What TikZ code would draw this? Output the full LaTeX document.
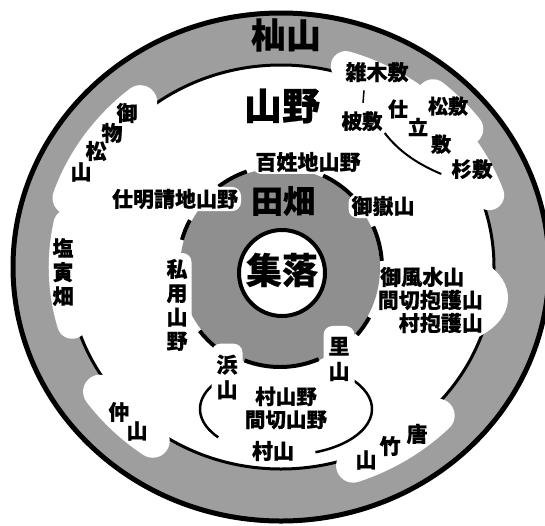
\documentclass[tikz,border=0pt]{standalone}
\usepackage{fontspec}
\newfontfamily\cjk[BoldFeatures={FakeBold=0.5}]{Noto Sans CJK JP}
\usetikzlibrary{calc}
\definecolor{ringgray}{gray}{0.62}
\definecolor{fieldgray}{gray}{0.56}
\begin{document}
\begin{tikzpicture}[x=1pt,y=-1pt,
  every node/.style={inner sep=0pt},
  jp/.style={font=\cjk\bfseries\fontsize{#1}{#1}\selectfont},
  vt/.style={align=center, font=\cjk\bfseries\fontsize{21}{24}\selectfont},
  bub/.style={white, line cap=round},
  bracket/.style={line width=4pt},
  wbox/.style={fill=white, rounded corners=9pt}]
\useasboundingbox (0,0) rectangle (545,525);
\clip (0,0) rectangle (545,525);
\fill[white] (0,0) rectangle (545,525);
\def\RX{213}\def\RY{202}
\coordinate (C) at (281,267);
\coordinate (G) at (280,268);
\coordinate (E) at (286,409);
% outer ring
\fill[ringgray] (C) ellipse[x radius=270, y radius=256];
\draw[line width=5pt] (C) ellipse[x radius=268, y radius=254];
\fill[white] (C) ellipse[x radius=\RX, y radius=\RY];
\draw[line width=3pt] (C) ellipse[x radius=\RX, y radius=\RY];
% bubbles on the ring
\draw[bub, line width=34pt] ($(C)+(199:{\RX*1.05} and {\RY*1.05})$) arc[start angle=199, end angle=231, x radius={\RX*1.05}, y radius={\RY*1.05}];
\draw[bub, line width=30pt] ($(C)+(164:{\RX*1.02} and {\RY*1.02})$) arc[start angle=164, end angle=192, x radius={\RX*1.02}, y radius={\RY*1.02}];
\draw[bub, line width=34pt] ($(C)+(125:{\RX*1.05} and {\RY*1.05})$) arc[start angle=125, end angle=144, x radius={\RX*1.05}, y radius={\RY*1.05}];
\draw[bub, line width=34pt] ($(C)+(45:{\RX*1.04} and {\RY*1.04})$) arc[start angle=45, end angle=71, x radius={\RX*1.04}, y radius={\RY*1.04}];
\draw[bub, line width=30pt] ($(C)+(-73:{\RX*1.04} and {\RY*1.04})$) arc[start angle=-73, end angle=-20, x radius={\RX*1.04}, y radius={\RY*1.04}];
\draw[bub, line width=32pt] ($(C)+(-50:{\RX*1.11} and {\RY*1.11})$) arc[start angle=-50, end angle=-38, x radius={\RX*1.11}, y radius={\RY*1.11}];
\fill[white] (440,298) ellipse[x radius=68, y radius=47];
% ellipse around village fields
\draw[line width=2.5pt] ($(E)+(-60:86 and 46)$) arc[start angle=-60, end angle=70, x radius=86, y radius=46];
\draw[line width=2.5pt] ($(E)+(142:86 and 46)$) arc[start angle=142, end angle=235, x radius=86, y radius=46];
% fields (gray)
\fill[fieldgray] (G) circle[radius=100];
\draw[bracket] ($(G)+(233:102)$) arc[start angle=233, end angle=251, radius=102];
\draw[bracket] ($(G)+(295:102)$) arc[start angle=295, end angle=315, radius=102];
\draw[bracket] ($(G)+(336:102)$) arc[start angle=336, end angle=356, radius=102];
\draw[bracket] ($(G)+(29:102)$) arc[start angle=29, end angle=41, radius=102];
\draw[bracket] ($(G)+(67:99)$) arc[start angle=67, end angle=111, radius=99];
\draw[bracket] ($(G)+(129:102)$) arc[start angle=129, end angle=142, radius=102];
\draw[bracket] ($(G)+(196:102)$) arc[start angle=196, end angle=208, radius=102];
% settlement
\draw[line width=4pt, fill=white] (282,273) circle[radius=43];
% labels
\node[jp=35] (soma) at (286,35) {杣山};
\node[jp=38] (sanya) at (282,106) {山野};
\node[jp=32, text=black] (denpata) at (283,201) {田畑};
\node[jp=36] (shuraku) at (282,270) {集落};
\node[jp=21, wbox, inner xsep=3pt, inner ysep=2pt] (hyakusho) at (308,162) {百姓地山野};
\node[jp=21, wbox, inner xsep=3pt, inner ysep=2pt] (shiake) at (175,199) {仕明請地山野};
\node[jp=21, wbox, inner xsep=3pt, inner ysep=2pt] (utaki) at (383,206) {御嶽山};
\node[vt, wbox, inner xsep=4pt, inner ysep=6pt] (shiyo) at (177,305) {私\\用\\山\\野};
\node[vt, wbox, inner xsep=5pt, inner ysep=11pt, font=\cjk\bfseries\fontsize{21}{25}\selectfont] (hama) at (227,377) {浜\\山};
\node[vt, wbox, inner xsep=5pt, inner ysep=11pt, font=\cjk\bfseries\fontsize{21}{25}\selectfont] (sato) at (339,359) {里\\山};
\node[align=center, font=\cjk\bfseries\fontsize{20.5}{23}\selectfont] (murasanya) at (286,408) {村山野\\間切山野};
\node[jp=21] (murayama) at (273,451) {村山};
\node[jp=21] (fusui) at (380,277) [anchor=west] {御風水山};
\node[jp=21] (maghogo) at (483,300) [anchor=east] {間切抱護山};
\node[jp=21] (murahogo) at (483,323) [anchor=east] {村抱護山};
\node[jp=21] (zoki) at (377,72) {雑木敷};
\node[jp=20.5] (maki) at (362,121) {柀敷};
\node[jp=20] (shi) at (398,109) {仕};
\node[jp=20] (tatsu) at (418,127) {立};
\node[jp=20] (shiki) at (441,144) {敷};
\node[jp=20] (matsu) at (448,106) {松敷};
\node[jp=20.5] (sugi) at (472,169) {杉敷};
\node[vt] (shiogama) at (63,272) {塩\\寅\\畑};
\node[jp=21] (o1) at (127,113) {御};
\node[jp=21] (o2) at (112,133) {物};
\node[jp=21] (o3) at (96,151) {松};
\node[jp=21] (o4) at (81,172) {山};
\node[jp=21] (naka1) at (119,412) {仲};
\node[jp=21] (naka2) at (137,431) {山};
\node[jp=21] (kara1) at (417,434) {唐};
\node[jp=21] (kara2) at (390,446) {竹};
\node[jp=21] (kara3) at (366,460) {山};
% connectors
\draw[line width=1.5pt] ($(zoki.south)+(-13,8)$) -- ($(maki.north)+(1,-8)$);
\draw[line width=2pt] ($(maki.east)+(2,12)$) .. controls (400,153) and (420,165) .. ($(sugi.west)+(-10,5)$);
\end{tikzpicture}
\end{document}
